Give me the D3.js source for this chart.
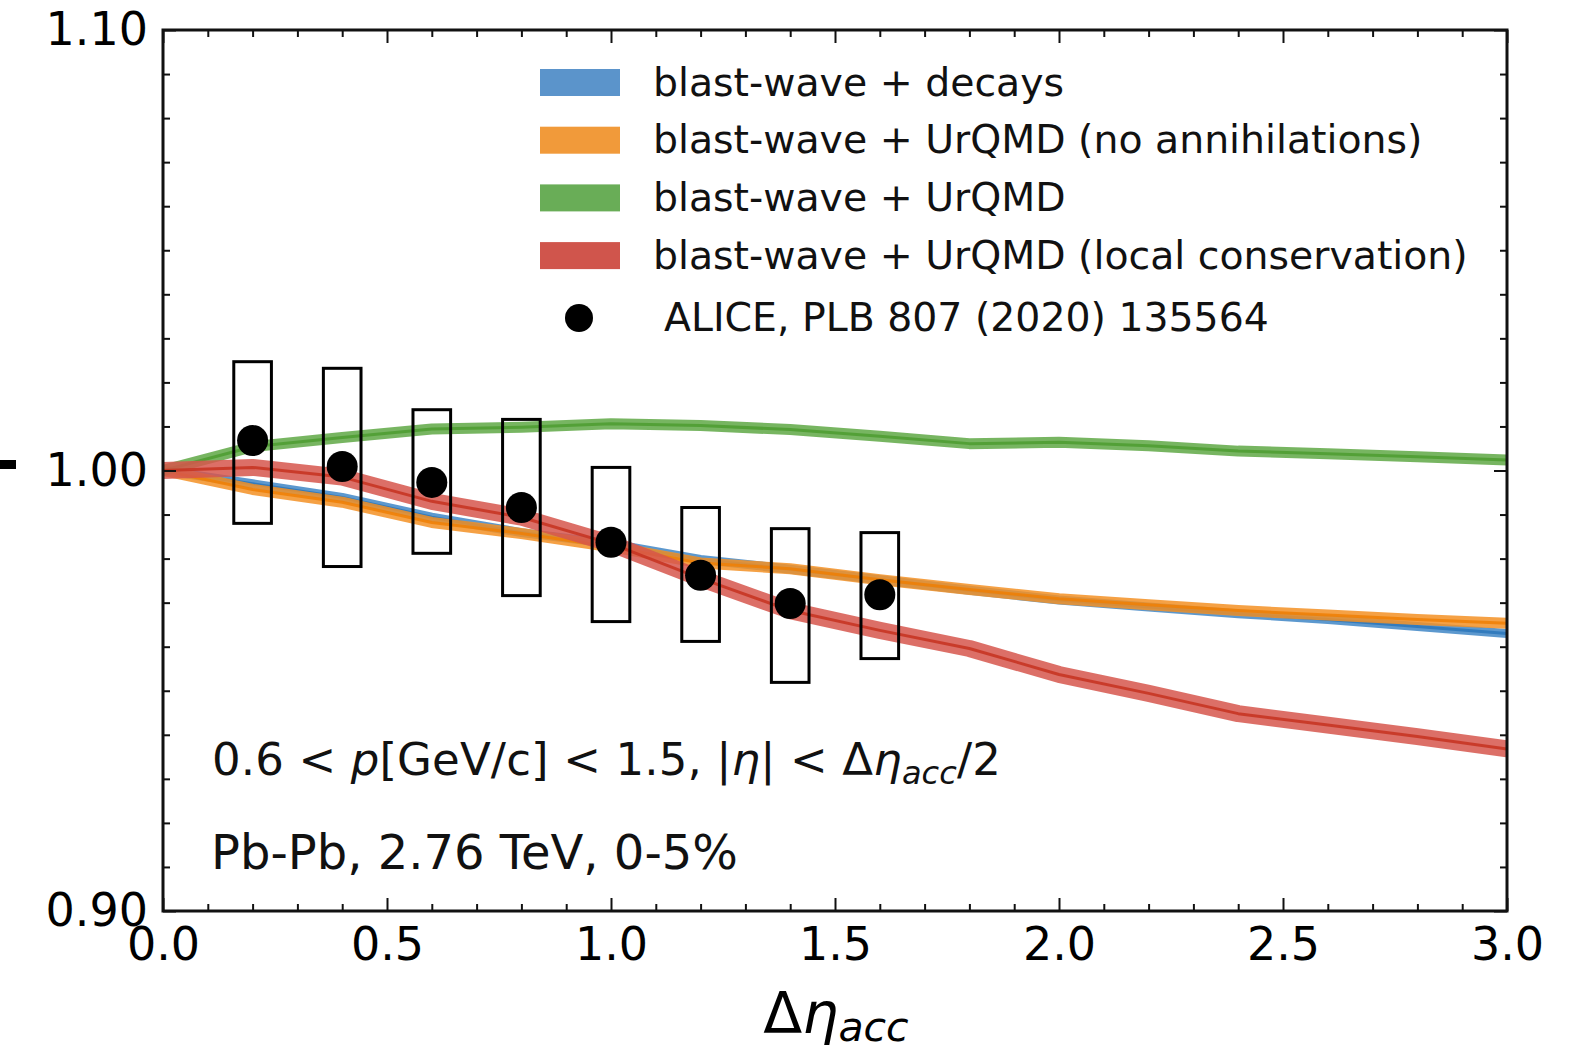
<!DOCTYPE html>
<html>
<head>
<meta charset="utf-8">
<script src="https://cdn.jsdelivr.net/npm/d3@7"></script>
<style>
  html, body { margin: 0; padding: 0; background: #fff; }
  svg { display: block; font-family: "DejaVu Sans", sans-serif; }
</style>
</head>
<body>
<svg id="chart" width="1588" height="1049"></svg>
<script>
// ---- data ----
const modelX = [0, 0.2, 0.4, 0.6, 0.8, 1.0, 1.2, 1.4, 1.6, 1.8, 2.0, 2.2, 2.4, 2.6, 2.8, 3.0];
const blastDecays = [1.0, 0.9970, 0.9939, 0.9894, 0.9859, 0.9834, 0.9798, 0.9776, 0.9752, 0.9728, 0.9706, 0.9690, 0.9675, 0.9662, 0.9646, 0.9630];
const urqmdNoAnn  = [1.0, 0.9957, 0.9928, 0.9882, 0.9857, 0.9827, 0.9790, 0.9777, 0.9752, 0.9730, 0.9709, 0.9695, 0.9682, 0.9672, 0.9662, 0.9653];
const urqmd       = [1.0, 1.0054, 1.0075, 1.0094, 1.0098, 1.0106, 1.0102, 1.0093, 1.0078, 1.0061, 1.0064, 1.0056, 1.0044, 1.0038, 1.0031, 1.0024];
const urqmdLocal  = [1.0, 1.0007, 0.9985, 0.9930, 0.9894, 0.9834, 0.9755, 0.9682, 0.9637, 0.9596, 0.9537, 0.9494, 0.9448, 0.9422, 0.9396, 0.9368];

const aliceX   = [0.2, 0.4, 0.6, 0.8, 1.0, 1.2, 1.4, 1.6];
const aliceY   = [1.0068, 1.0009, 0.9973, 0.9916, 0.9837, 0.9762, 0.9698, 0.9718];
const aliceSysHi = [1.0247, 1.0232, 1.0138, 1.0116, 1.0007, 0.9916, 0.9868, 0.9859];
const aliceSysLo = [0.9880, 0.9782, 0.9812, 0.9716, 0.9657, 0.9612, 0.9519, 0.9573];
const boxHalfWidth = 0.042;

const seriesNames = [
  "blast-wave + decays",
  "blast-wave + UrQMD (no annihilations)",
  "blast-wave + UrQMD",
  "blast-wave + UrQMD (local conservation)"
];
const dataLabel = "ALICE, PLB 807 (2020) 135564";

const xMajorTicks = [0, 0.5, 1.0, 1.5, 2.0, 2.5, 3.0];
const xTickLabels = ["0.0", "0.5", "1.0", "1.5", "2.0", "2.5", "3.0"];
const yMajorTicks = [0.90, 1.00, 1.10];
const yTickLabels = ["0.90", "1.00", "1.10"];

// ---- styles ----
const series = [
  { values: blastDecays, band: "#3f86c6", line: "#2a76ba", width: 9,  legend: "#5b94cb" },
  { values: urqmdNoAnn,  band: "#f39024", line: "#ee7f05", width: 11, legend: "#f19a3a" },
  { values: urqmd,       band: "#5fa845", line: "#4c9c30", width: 11, legend: "#69ad57" },
  { values: urqmdLocal,  band: "#d6564c", line: "#c53220", width: 17, legend: "#d0554c" }
];

const L = 163, R = 1507, T = 30, B = 911;
const svg = d3.select("#chart");
const x = d3.scaleLinear().domain([0, 3]).range([L, R]);
const y = d3.scaleLinear().domain([0.9, 1.1]).range([B, T]);

// artifact dash at far left
svg.append("rect").attr("x", 0).attr("y", 460).attr("width", 16).attr("height", 9).attr("fill", "#000");

// clip
svg.append("clipPath").attr("id", "clip").append("rect")
  .attr("x", L).attr("y", T).attr("width", R - L).attr("height", B - T);

const plot = svg.append("g").attr("clip-path", "url(#clip)");

const lineGen = d3.line().x((d, i) => x(modelX[i])).y(d => y(d));
series.forEach(s => {
  plot.append("path").datum(s.values).attr("d", lineGen)
    .attr("fill", "none").attr("stroke", s.band).attr("stroke-opacity", 0.85)
    .attr("stroke-width", s.width).attr("stroke-linejoin", "round");
  plot.append("path").datum(s.values).attr("d", lineGen)
    .attr("fill", "none").attr("stroke", s.line).attr("stroke-opacity", 0.85)
    .attr("stroke-width", 3).attr("stroke-linejoin", "round");
});

// ALICE data: systematic boxes and points
const pts = aliceX.map((xv, i) => ({ x: xv, y: aliceY[i], hi: aliceSysHi[i], lo: aliceSysLo[i] }));
plot.selectAll("rect.sys").data(pts).enter().append("rect").attr("class", "sys")
  .attr("x", d => x(d.x - boxHalfWidth))
  .attr("width", d => x(d.x + boxHalfWidth) - x(d.x - boxHalfWidth))
  .attr("y", d => y(d.hi))
  .attr("height", d => y(d.lo) - y(d.hi))
  .attr("fill", "none").attr("stroke", "#000").attr("stroke-width", 3);
plot.selectAll("circle.pt").data(pts).enter().append("circle").attr("class", "pt")
  .attr("cx", d => x(d.x)).attr("cy", d => y(d.y)).attr("r", 15.5).attr("fill", "#000");

// ---- axes ----
const xMinor = d3.range(0, 31).map(i => i / 10).filter(v => Math.abs(v * 2 - Math.round(v * 2)) > 1e-6);
const yMinor = d3.range(0, 21).map(i => 0.9 + i / 100).filter(v => !yMajorTicks.some(t => Math.abs(t - v) < 1e-6));

function styleAxis(g) {
  g.select(".domain").remove();
  g.selectAll(".tick line").attr("stroke", "#111").attr("stroke-width", 2);
  g.selectAll(".tick text").attr("fill", "#000").style("font-family", "DejaVu Sans").style("font-size", "46px");
}

const fmtX = d => xTickLabels[xMajorTicks.indexOf(d)];
const fmtY = d => yTickLabels[yMajorTicks.findIndex(t => Math.abs(t - d) < 1e-9)];

svg.append("g").attr("transform", `translate(0,${B})`)
  .call(d3.axisBottom(x).tickValues(xMajorTicks).tickFormat(fmtX).tickSizeInner(-13).tickSizeOuter(0).tickPadding(16))
  .call(styleAxis);
svg.append("g").attr("transform", `translate(0,${B})`)
  .call(d3.axisBottom(x).tickValues(xMinor).tickFormat("").tickSizeInner(-7).tickSizeOuter(0))
  .call(styleAxis);
svg.append("g").attr("transform", `translate(0,${T})`)
  .call(d3.axisTop(x).tickValues(xMajorTicks).tickFormat("").tickSizeInner(-13).tickSizeOuter(0))
  .call(styleAxis);
svg.append("g").attr("transform", `translate(0,${T})`)
  .call(d3.axisTop(x).tickValues(xMinor).tickFormat("").tickSizeInner(-7).tickSizeOuter(0))
  .call(styleAxis);

svg.append("g").attr("transform", `translate(${L},0)`)
  .call(d3.axisLeft(y).tickValues(yMajorTicks).tickFormat(fmtY).tickSizeInner(-13).tickSizeOuter(0).tickPadding(15))
  .call(styleAxis);
svg.append("g").attr("transform", `translate(${L},0)`)
  .call(d3.axisLeft(y).tickValues(yMinor).tickFormat("").tickSizeInner(-7).tickSizeOuter(0))
  .call(styleAxis);
svg.append("g").attr("transform", `translate(${R},0)`)
  .call(d3.axisRight(y).tickValues(yMajorTicks).tickFormat("").tickSizeInner(-13).tickSizeOuter(0))
  .call(styleAxis);
svg.append("g").attr("transform", `translate(${R},0)`)
  .call(d3.axisRight(y).tickValues(yMinor).tickFormat("").tickSizeInner(-7).tickSizeOuter(0))
  .call(styleAxis);

// frame
svg.append("rect").attr("x", L).attr("y", T).attr("width", R - L).attr("height", B - T)
  .attr("fill", "none").attr("stroke", "#111").attr("stroke-width", 3);

// x-axis label
const xl = svg.append("text").attr("x", 836).attr("y", 1033).attr("text-anchor", "middle")
  .style("font-size", "57px").attr("fill", "#000");
xl.append("tspan").text("Δ");
xl.append("tspan").style("font-style", "italic").text("η");
xl.append("tspan").style("font-style", "italic").style("font-size", "41px").attr("dy", 8).text("acc");

// ---- legend ----
const legX = 540, legTextX = 653, legY0 = 82.5, legStep = 57.7;
series.forEach((s, i) => {
  const cy = legY0 + i * legStep;
  svg.append("rect").attr("x", legX).attr("y", cy - 13.5).attr("width", 80).attr("height", 27).attr("fill", s.legend);
  svg.append("text").attr("x", legTextX).attr("y", cy + 13).style("font-size", "39.4px").attr("fill", "#111")
    .text(seriesNames[i]);
});
svg.append("circle").attr("cx", 579).attr("cy", 318).attr("r", 14).attr("fill", "#000");
svg.append("text").attr("x", 664).attr("y", 331).style("font-size", "39.4px").attr("fill", "#111").text(dataLabel);

// ---- annotations ----
const a1 = svg.append("text").attr("x", 212).attr("y", 775).style("font-size", "45px").attr("fill", "#111")
  .attr("textLength", 789).attr("lengthAdjust", "spacing");
a1.append("tspan").text("0.6 < ");
a1.append("tspan").style("font-style", "italic").text("p");
a1.append("tspan").text("[GeV/c] < 1.5, |");
a1.append("tspan").style("font-style", "italic").text("η");
a1.append("tspan").text("| < Δ");
a1.append("tspan").style("font-style", "italic").text("η");
a1.append("tspan").style("font-style", "italic").style("font-size", "32px").attr("dy", 9).text("acc");
a1.append("tspan").attr("dy", -9).text("/2");

svg.append("text").attr("x", 211).attr("y", 869).style("font-size", "48px").attr("fill", "#111")
  .text("Pb-Pb, 2.76 TeV, 0-5%");
</script>
</body>
</html>
